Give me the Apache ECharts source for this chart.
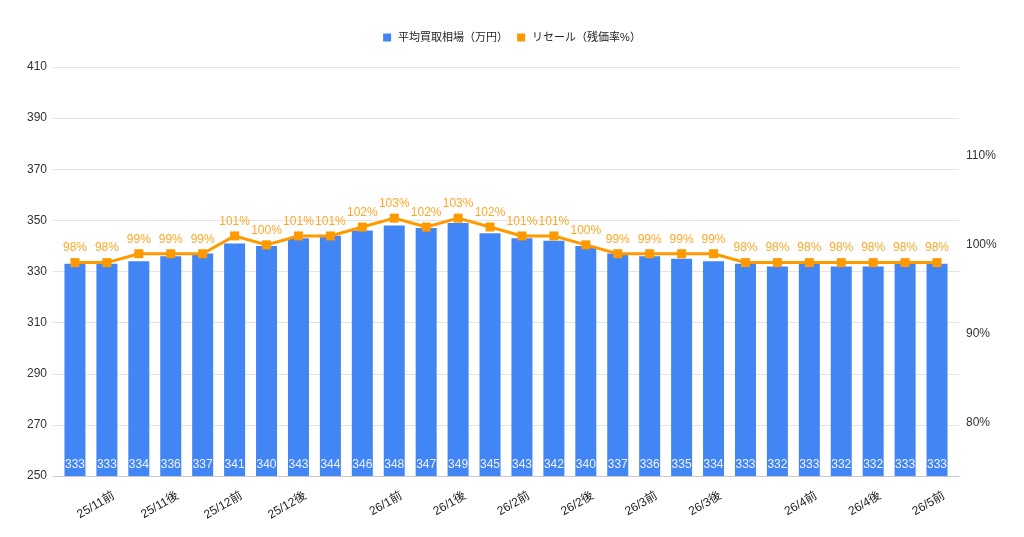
<!DOCTYPE html>
<html>
<head>
<meta charset="utf-8">
<title>平均買取相場</title>
<script src="https://cdn.jsdelivr.net/npm/echarts@6/dist/echarts.min.js"></script>
<style>
html,body{margin:0;padding:0;background:#fff;}
#c1{width:1024px;height:537px;}
</style>
</head>
<body>
<div id="c1"></div>
<script>
// 横軸 (ラベルが出ているところだけ名前あり)
var categories = ['', '25/11前', '', '25/11後', '', '25/12前', '', '25/12後', '', '', '26/1前', '', '26/1後', '', '26/2前', '', '26/2後', '', '26/3前', '', '26/3後', '', '', '26/4前', '', '26/4後', '', '26/5前'];
// 平均買取相場(万円)
var avgPrice = [333, 333, 334, 336, 337, 341, 340, 343, 344, 346, 348, 347, 349, 345, 343, 342, 340, 337, 336, 335, 334, 333, 332, 333, 332, 332, 333, 333];
// リセール(残価率%)
var resale = [98, 98, 99, 99, 99, 101, 100, 101, 101, 102, 103, 102, 103, 102, 101, 101, 100, 99, 99, 99, 99, 98, 98, 98, 98, 98, 98, 98];
var rightTicks = [80, 90, 100, 110];

var fontFamily = '"Liberation Sans", "Noto Sans CJK JP", sans-serif';
var chart = echarts.init(document.getElementById('c1'));
var option = {
    animation: false,
    textStyle: { fontFamily: fontFamily },
    legend: {
        top: 27,
        left: 'center',
        itemWidth: 8,
        itemHeight: 8,
        itemGap: 9,
        textStyle: { fontSize: 11, color: '#222', padding: [0, 0, 0, 2] },
        data: [
            { name: '平均買取相場（万円）', icon: 'rect' },
            { name: 'リセール（残価率%）', icon: 'rect' }
        ]
    },
    grid: [
        // 目盛線だけ描く背景用
        { left: 53, right: 65, top: 67, bottom: 61 },
        { left: 59, right: 71, top: 67, bottom: 61 }
    ],
    xAxis: [
        {
            gridIndex: 0, type: 'value', min: 0, max: 1,
            axisLine: { show: true, lineStyle: { color: '#c8c8c8' } },
            axisTick: { show: false },
            axisLabel: { show: false },
            splitLine: { show: false }
        },
        {
            gridIndex: 1, type: 'category', data: categories,
            axisLine: { show: false },
            axisTick: { show: false },
            axisLabel: {
                interval: 0,
                rotate: 30,
                margin: 23,
                padding: [0, -8, 0, 0],
                fontSize: 12,
                color: '#222'
            }
        }
    ],
    yAxis: [
        {
            gridIndex: 0, type: 'value', min: 250, max: 410, interval: 20,
            axisLine: { show: false },
            axisTick: { show: false },
            axisLabel: { margin: 6, fontSize: 12, color: '#333' },
            splitLine: { lineStyle: { color: '#e3e3e3' } }
        },
        { gridIndex: 1, type: 'value', min: 250, max: 410, show: false },
        {
            gridIndex: 1, type: 'value', position: 'right', min: 74, max: 120,
            axisLine: { show: false },
            axisTick: { show: false },
            splitLine: { show: false },
            axisLabel: {
                customValues: rightTicks,
                formatter: '{value}%',
                margin: 13,
                fontSize: 12,
                color: '#333'
            }
        }
    ],
    series: [
        {
            name: '平均買取相場（万円）',
            type: 'bar',
            xAxisIndex: 1,
            yAxisIndex: 1,
            barWidth: 21,
            itemStyle: { color: '#4285f4' },
            label: {
                show: true,
                position: 'insideBottom',
                distance: 5,
                color: '#eef3fe',
                fontSize: 12
            },
            data: avgPrice
        },
        {
            name: 'リセール（残価率%）',
            type: 'line',
            xAxisIndex: 1,
            yAxisIndex: 2,
            symbol: 'rect',
            symbolSize: 9,
            lineStyle: { width: 3, color: '#ff9900' },
            itemStyle: { color: '#ff9900' },
            label: {
                show: true,
                position: 'top',
                distance: 4,
                formatter: '{c}%',
                color: '#ffa726',
                fontSize: 12
            },
            data: resale
        }
    ]
};
chart.setOption(option);
</script>
</body>
</html>
